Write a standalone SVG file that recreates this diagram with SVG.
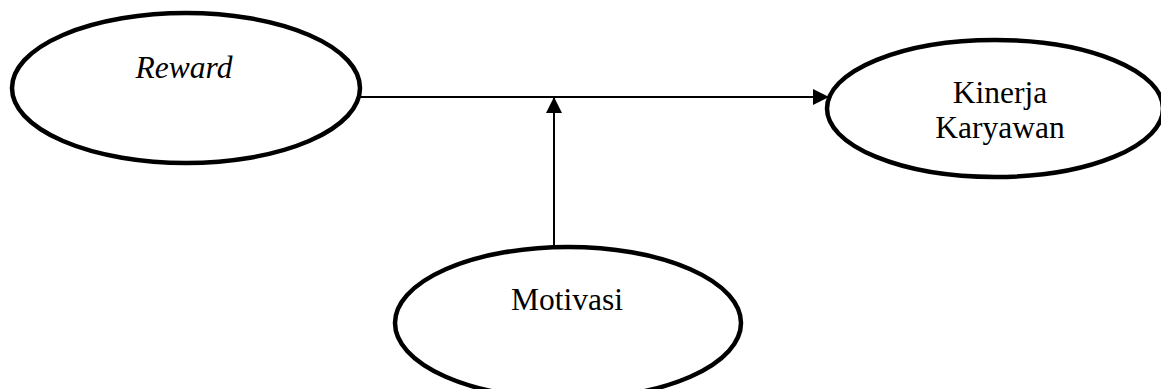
<svg xmlns="http://www.w3.org/2000/svg" width="1161" height="389" viewBox="0 0 1161 389">
<style>
.node{fill:#fff;stroke:#000;stroke-width:4.5}
.lbl{font-family:"Liberation Serif","Times New Roman",serif;font-size:31.5px;fill:#000;text-anchor:middle}
.edge{stroke:#000;stroke-width:2;fill:none}
</style>
<defs>
<marker id="ah" markerWidth="16" markerHeight="16" refX="15" refY="8" orient="auto" markerUnits="userSpaceOnUse">
<path d="M0,0 L16,8 L0,16 Z" fill="#000"/>
</marker>
</defs>
<rect width="1161" height="389" fill="#fff"/>
<g id="connectors">
<line class="edge" x1="360" y1="97" x2="828" y2="97" marker-end="url(#ah)"/>
<line class="edge" x1="554" y1="247" x2="554" y2="98" marker-end="url(#ah)"/>
</g>
<g id="reward">
<ellipse class="node" cx="186" cy="88" rx="174" ry="75"/>
<text class="lbl" x="184" y="78" font-style="italic">Reward</text>
</g>
<g id="kinerja">
<ellipse class="node" cx="995" cy="108.5" rx="168" ry="68.5"/>
<text class="lbl" x="1000" y="103">Kinerja</text>
<text class="lbl" x="1000" y="138">Karyawan</text>
</g>
<g id="motivasi">
<ellipse class="node" cx="568" cy="323" rx="173" ry="76"/>
<text class="lbl" x="567" y="310">Motivasi</text>
</g>
</svg>
